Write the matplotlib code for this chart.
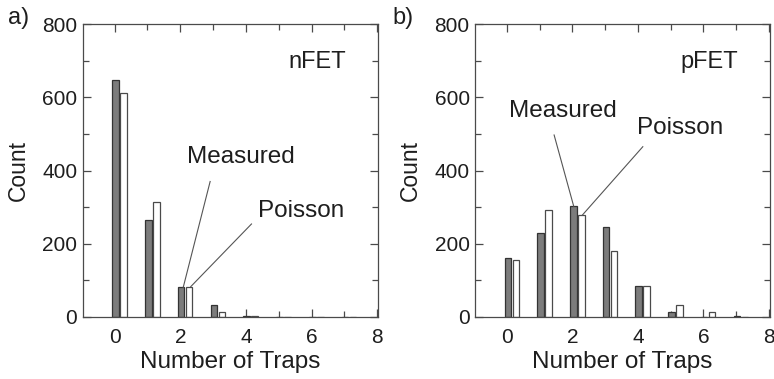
import matplotlib
matplotlib.use("Agg")
import matplotlib.pyplot as plt
import numpy as np
from matplotlib.ticker import MultipleLocator

plt.rcParams["font.family"] = ["Liberation Sans", "DejaVu Sans"]

traps = np.arange(8)

# trap-count histograms: measured devices vs. Poisson expectation
nfet_measured = [646, 264, 81, 32, 3, 0, 0, 0]
nfet_poisson = [611, 314, 83, 15, 2, 0, 0, 0]
pfet_measured = [162, 229, 302, 246, 86, 14, 0, 4]
pfet_poisson = [157, 293, 278, 180, 86, 34, 14, 1]

INK = "#1e1e1e"
EDGE = "#4a4a4a"

fig = plt.figure(figsize=(7.74, 3.79), dpi=100)
ax_a = fig.add_axes([0.107, 0.1636, 0.382, 0.773])
ax_b = fig.add_axes([0.614, 0.1636, 0.381, 0.773])


def draw_panel(ax, measured, poisson, device, meas_text, meas_line, pois_text, pois_line):
    ax.bar(traps + 0.025, measured, width=0.2, color="#7c7c7c",
           edgecolor="#333333", linewidth=0.9, zorder=2)
    ax.bar(traps + 0.27, poisson, width=0.2, color="white",
           edgecolor=EDGE, linewidth=0.9, zorder=2)

    ax.set_xlim(-0.97, 8.04)
    ax.set_ylim(0, 800)
    ax.xaxis.set_major_locator(MultipleLocator(2))
    ax.xaxis.set_minor_locator(MultipleLocator(1))
    ax.yaxis.set_major_locator(MultipleLocator(200))
    ax.yaxis.set_minor_locator(MultipleLocator(100))
    ax.tick_params(which="both", direction="in", top=True, right=True,
                   color=EDGE, width=0.9, labelcolor=INK, labelsize=15)
    ax.tick_params(which="major", length=6)
    ax.tick_params(which="minor", length=4)
    ax.tick_params(axis="x", pad=8)
    ax.tick_params(axis="y", pad=4)
    for sp in ax.spines.values():
        sp.set_color(EDGE)
        sp.set_linewidth(0.9)

    ax.set_xlabel("Number of Traps", fontsize=17.5, color=INK, labelpad=3)
    ax.set_ylabel("Count", fontsize=16.5, color=INK, labelpad=9)

    ax.text(6.17, 680, device, fontsize=17, color=INK, ha="center", va="baseline")
    ax.text(*meas_text, "Measured", fontsize=17.5, color=INK, ha="center", va="baseline")
    ax.text(*pois_text, "Poisson", fontsize=17.5, color=INK, ha="center", va="baseline")
    for (x0, y0, x1, y1) in (meas_line, pois_line):
        ax.plot([x0, x1], [y0, y1], color="#555555", lw=0.8, zorder=3)


draw_panel(ax_a, nfet_measured, nfet_poisson, "nFET",
           (3.84, 420), (2.91, 370, 2.09, 81),
           (5.69, 274), (4.17, 254, 2.32, 83))
draw_panel(ax_b, pfet_measured, pfet_poisson, "pFET",
           (1.71, 547), (1.44, 497, 2.04, 302),
           (5.30, 500), (4.15, 465, 2.30, 278))

fig.text(8 / 774, 1 - 24 / 379, "a)", fontsize=17, color=INK, va="baseline")
fig.text(392 / 774, 1 - 24 / 379, "b)", fontsize=17, color=INK, va="baseline")

fig.savefig("out.png", dpi=100)
